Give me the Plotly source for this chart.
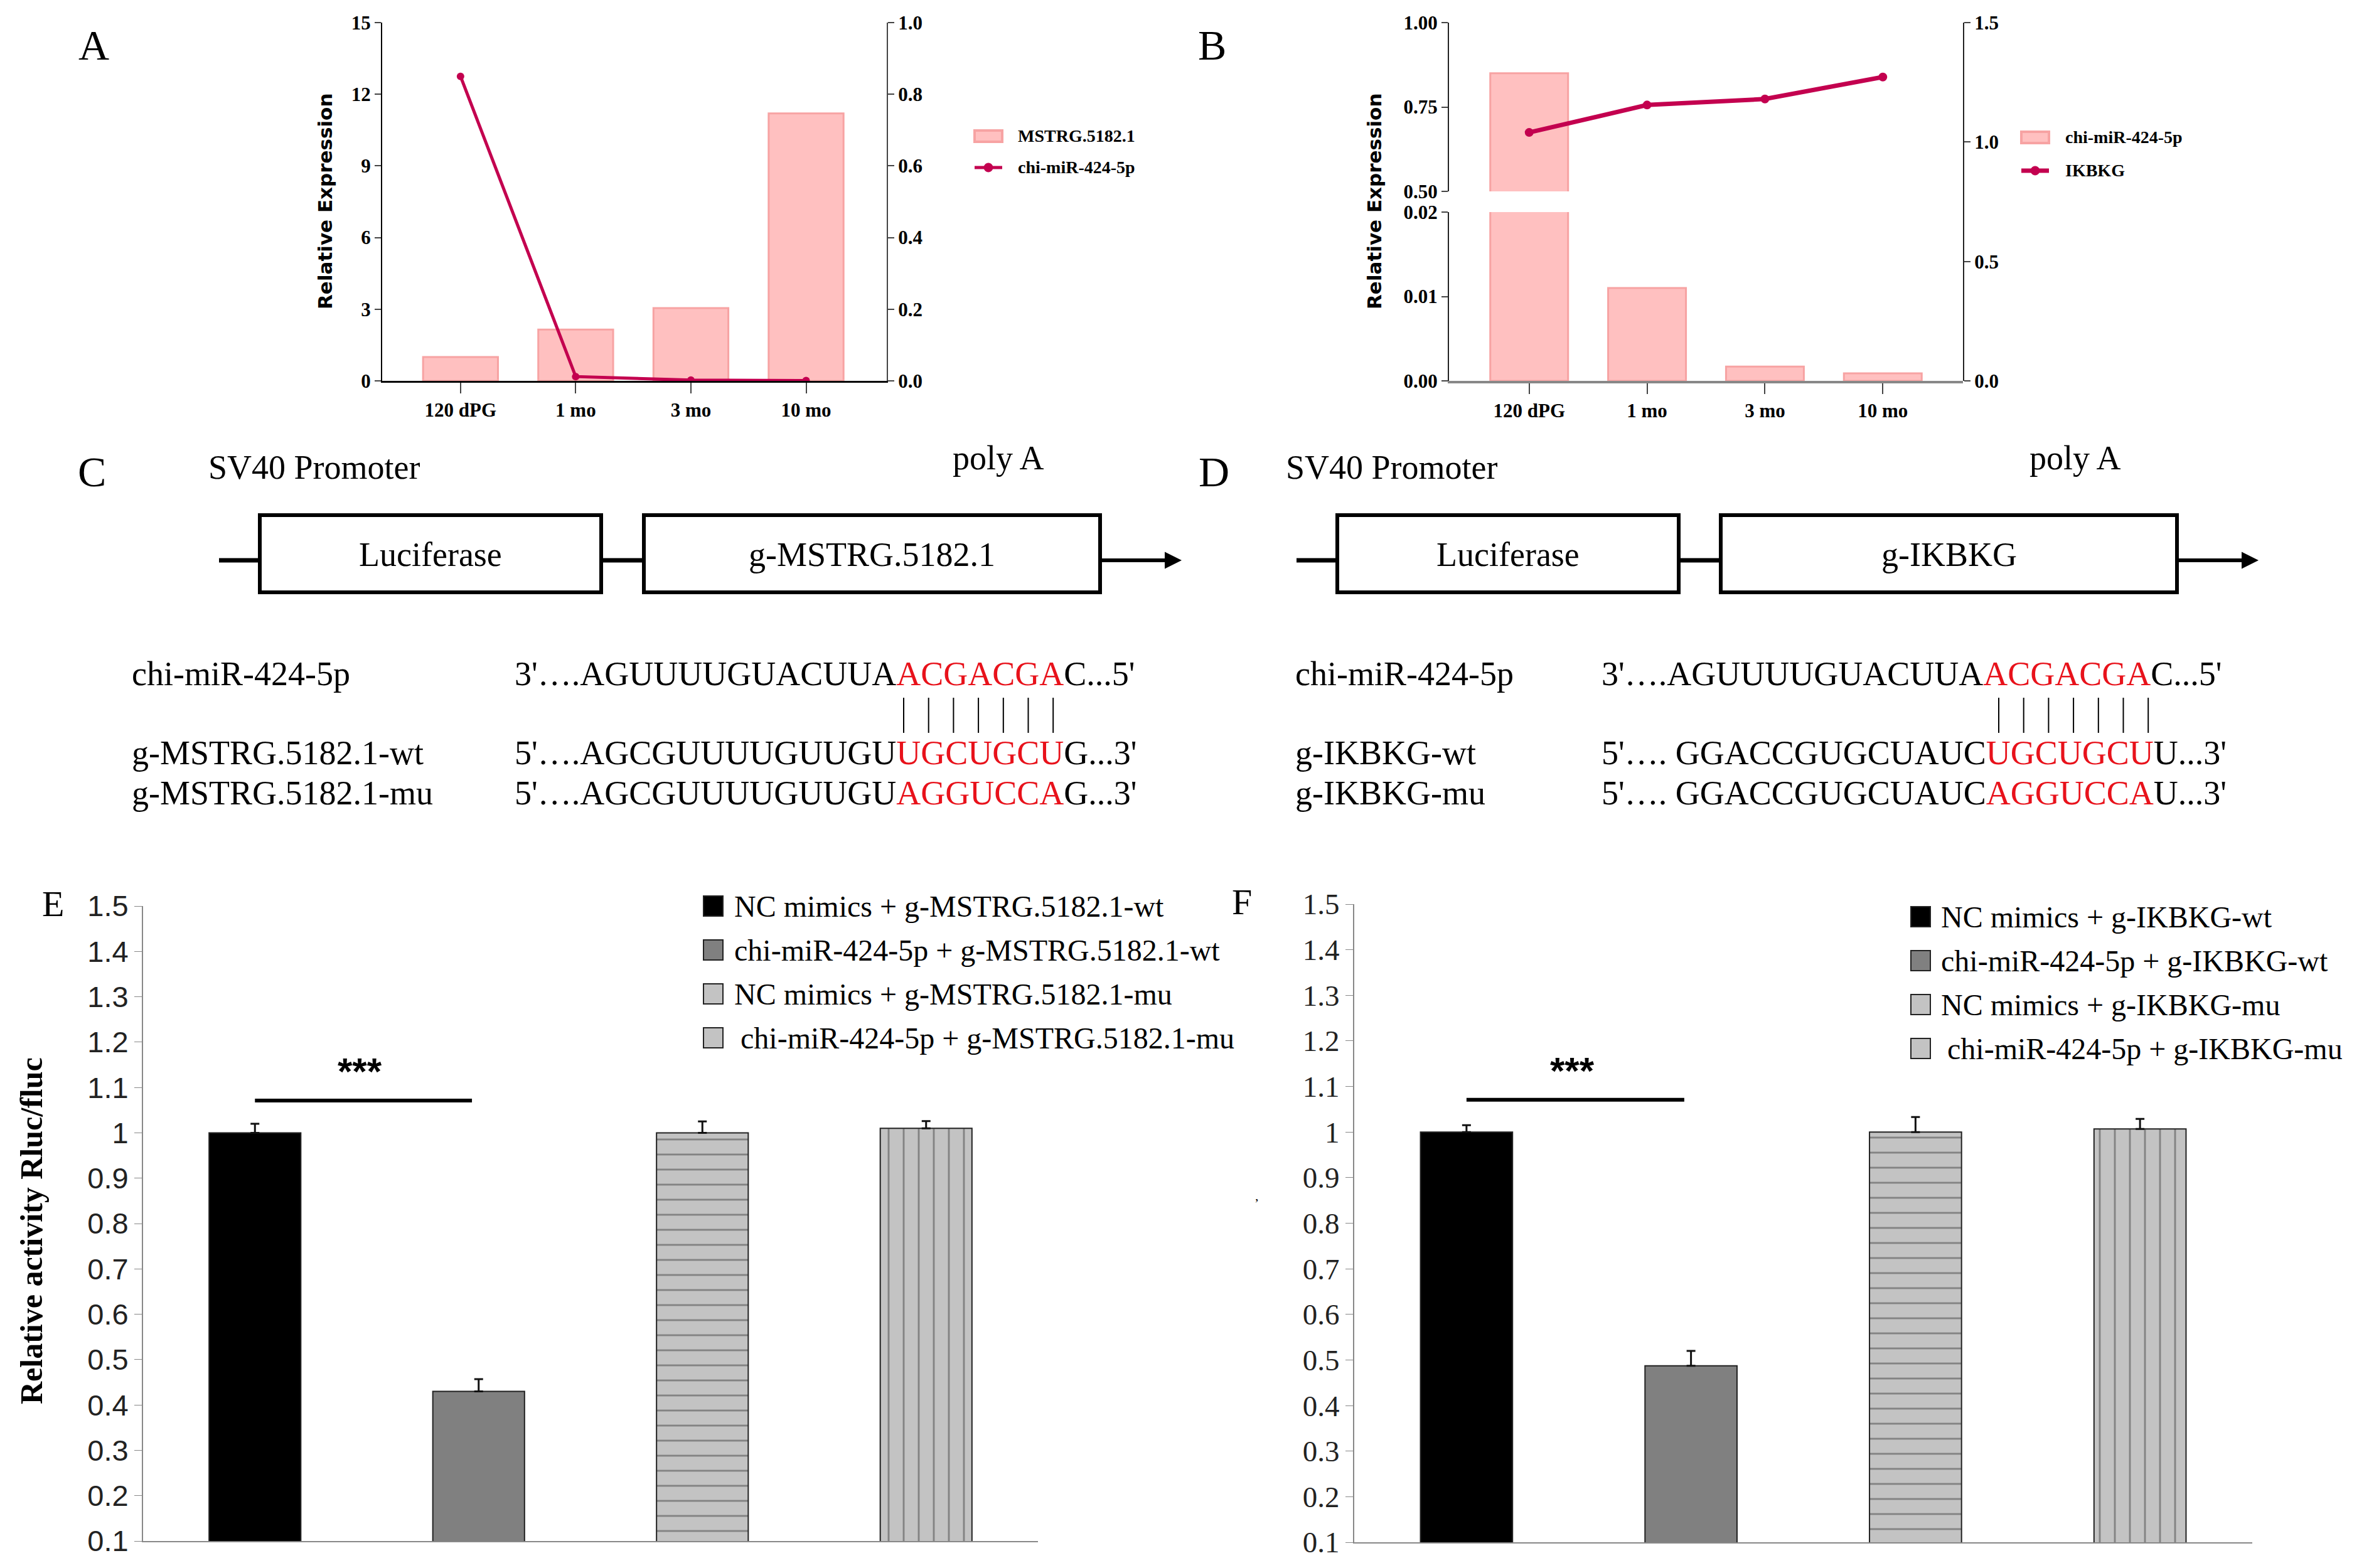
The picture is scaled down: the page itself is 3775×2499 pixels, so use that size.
import plotly.graph_objects as go

# canvas size, everything below is placed in pixels of this canvas
W, H = 3775, 2499
OFF = 8  # the page body margin shifts the figure by this much


def px(x):
    return (x - OFF) / W


def py(y):
    return 1 - (y - OFF) / H


# ---- data ----
timepoints = ["120 dPG", "1 mo", "3 mo", "10 mo"]
mstrg_expr = [1.0, 2.15, 3.05, 11.2]          # panel A bars (left axis)
mir424_a = [0.85, 0.012, 0.002, 0.001]        # panel A line (right axis)
mir424_b = [0.85, 0.011, 0.0017, 0.0009]      # panel B bars (broken left axis)
ikbkg_b = [1.04, 1.155, 1.18, 1.272]          # panel B line (right axis)

groups_e = ["NC mimics + g-MSTRG.5182.1-wt", "chi-miR-424-5p + g-MSTRG.5182.1-wt",
            "NC mimics + g-MSTRG.5182.1-mu", "chi-miR-424-5p + g-MSTRG.5182.1-mu"]
rel_e = [1.0, 0.43, 1.0, 1.01]
err_e = [0.02, 0.027, 0.025, 0.016]

groups_f = ["NC mimics + g-IKBKG-wt", "chi-miR-424-5p + g-IKBKG-wt",
            "NC mimics + g-IKBKG-mu", "chi-miR-424-5p + g-IKBKG-mu"]
rel_f = [1.0, 0.487, 1.0, 1.007]
err_f = [0.015, 0.033, 0.033, 0.022]

luc_ticks = [0.1, 0.2, 0.3, 0.4, 0.5, 0.6, 0.7, 0.8, 0.9, 1.0, 1.1, 1.2, 1.3, 1.4, 1.5]
luc_ticktext = ["0.1", "0.2", "0.3", "0.4", "0.5", "0.6", "0.7", "0.8", "0.9", "1",
                "1.1", "1.2", "1.3", "1.4", "1.5"]

mir_seq = ("3'….AGUUUUGUACUUA", "ACGACGA", "C...5'")
mstrg_wt = ("5'….AGCGUUUUGUUGU", "UGCUGCU", "G...3'")
mstrg_mu = ("5'….AGCGUUUUGUUGU", "AGGUCCA", "G...3'")
ikbkg_wt = ("5'…. GGACCGUGCUAUC", "UGCUGCU", "U...3'")
ikbkg_mu = ("5'…. GGACCGUGCUAUC", "AGGUCCA", "U...3'")

PINK = "#ffc0c0"
PINK_EDGE = "#f7a3a3"
CRIMSON = "#c3004f"
RED = "#e8121b"
bar_colors = ["#000000", "#808080", "#c3c3c3", "#c3c3c3"]
bar_patterns = ["", "", "-", "|"]

SERIF = "Liberation Serif"
SANS = "Liberation Sans"

fig = go.Figure()

# ---- panel A ----
fig.add_trace(go.Bar(x=timepoints, y=mstrg_expr, width=0.65, xaxis="x", yaxis="y",
                     marker=dict(color=PINK, line=dict(color=PINK_EDGE, width=3))))
fig.add_trace(go.Scatter(x=timepoints, y=mir424_a, xaxis="x", yaxis="y2", mode="lines+markers",
                         line=dict(color=CRIMSON, width=5), marker=dict(size=12, color=CRIMSON)))

# ---- panel B (broken left axis) ----
fig.add_trace(go.Bar(x=timepoints, y=mir424_b, width=0.66, xaxis="x2", yaxis="y3",
                     marker=dict(color=PINK, line=dict(color=PINK_EDGE, width=3))))
fig.add_trace(go.Bar(x=timepoints, y=mir424_b, width=0.66, xaxis="x2", yaxis="y4",
                     marker=dict(color=PINK, line=dict(color=PINK_EDGE, width=3))))
fig.add_trace(go.Scatter(x=timepoints, y=ikbkg_b, xaxis="x2", yaxis="y5", mode="lines+markers",
                         line=dict(color=CRIMSON, width=7), marker=dict(size=14, color=CRIMSON)))

# ---- panels E and F ----
for groups, vals, errs, xa, ya in [(groups_e, rel_e, err_e, "x3", "y6"),
                                   (groups_f, rel_f, err_f, "x4", "y7")]:
    fig.add_trace(go.Bar(
        x=groups, y=vals, width=0.41, xaxis=xa, yaxis=ya,
        marker=dict(color=bar_colors, line=dict(color="#222222", width=2),
                    pattern=dict(shape=bar_patterns, fillmode="overlay", fgcolor="#b7b7b7",
                                 size=24, solidity=0.12)),
        error_y=dict(type="data", symmetric=False, array=errs, arrayminus=[0, 0, 0, 0],
                     color="#111111", thickness=3, width=7),
    ))

tick_bold = dict(family=SERIF, size=31, color="black", weight="bold")
common = dict(showgrid=False, zeroline=False, showline=True, automargin=False)

fig.update_layout(
    width=W, height=H, margin=dict(l=0, r=0, t=0, b=0, pad=0, autoexpand=False),
    paper_bgcolor="white", plot_bgcolor="rgba(0,0,0,0)",
    showlegend=False, font=dict(family=SERIF, color="black"),
    # A
    xaxis=dict(domain=[px(609), px(1413)], anchor="y", range=[-0.68, 3.70], ticks="outside",
               ticklen=17, tickwidth=2, linecolor="black", linewidth=3, tickfont=tick_bold, **common),
    yaxis=dict(domain=[py(607), py(36)], anchor="x", range=[0, 15], dtick=3, ticks="outside",
               ticklen=10, tickwidth=2, linecolor="black", linewidth=2, tickfont=tick_bold, **common),
    yaxis2=dict(overlaying="y", side="right", anchor="x", range=[0, 1.0], dtick=0.2, tickformat=".1f",
                ticks="outside", ticklen=10, tickwidth=2, linecolor="#444", linewidth=2,
                tickfont=tick_bold, **common),
    # B
    xaxis2=dict(domain=[px(2309), px(3128)], anchor="y3", range=[-0.68, 3.68], ticks="outside",
                ticklen=17, tickwidth=2, linecolor="#888", linewidth=4, tickfont=tick_bold, **common),
    yaxis3=dict(domain=[py(607), py(338)], anchor="x2", range=[0, 0.02],
                tickvals=[0, 0.01, 0.02], tickformat=".2f", ticks="outside", ticklen=10, tickwidth=2,
                linecolor="#222", linewidth=2, tickfont=tick_bold, **common),
    yaxis4=dict(domain=[py(305), py(36)], anchor="x2", range=[0.5, 1.0],
                tickvals=[0.5, 0.75, 1.0], tickformat=".2f", ticks="outside", ticklen=10, tickwidth=2,
                linecolor="#222", linewidth=2, tickfont=tick_bold, **common),
    yaxis5=dict(domain=[py(607), py(36)], anchor="x2", side="right", range=[0, 1.5], dtick=0.5,
                tickformat=".1f", ticks="outside", ticklen=10, tickwidth=2,
                linecolor="#222", linewidth=2, tickfont=tick_bold, **common),
    # E
    xaxis3=dict(domain=[px(228), px(1654)], anchor="y6", range=[-0.5, 3.5], showticklabels=False,
                ticks="", linecolor="#888", linewidth=2, **common),
    yaxis6=dict(domain=[py(2456), py(1444)], anchor="x3", range=[0.1, 1.5], tickvals=luc_ticks,
                ticktext=luc_ticktext, ticks="outside", ticklen=12, tickcolor="#888",
                linecolor="#888", linewidth=2, tickfont=dict(family=SANS, size=47, color="#222"), **common),
    # F
    xaxis4=dict(domain=[px(2158), px(3589)], anchor="y7", range=[-0.5, 3.5], showticklabels=False,
                ticks="", linecolor="#888", linewidth=2, **common),
    yaxis7=dict(domain=[py(2458), py(1441)], anchor="x4", range=[0.1, 1.5], tickvals=luc_ticks,
                ticktext=luc_ticktext, ticks="outside", ticklen=12, tickcolor="#888",
                linecolor="#888", linewidth=2, tickfont=dict(family=SERIF, size=47, color="#222"), **common),
)

ann = []
shapes = []


def text(x, y, t, size, anchor="left", family=SERIF, weight="normal", angle=0, color="black"):
    ann.append(dict(x=px(x), y=py(y), xref="paper", yref="paper", text=t, showarrow=False,
                    xanchor=anchor, yanchor="middle", textangle=angle,
                    font=dict(family=family, size=size, weight=weight, color=color)))


# panel letters
text(149, 72, "A", 68, "center")
text(1931, 72, "B", 68, "center")
text(146, 752, "C", 68, "center")
text(1934, 752, "D", 68, "center")
text(84, 1440, "E", 58, "center")
text(1979, 1437, "F", 58, "center")

# axis titles
text(518, 321, "Relative Expression", 31, "center", "DejaVu Sans", "bold", -90)
text(2190, 321, "Relative Expression", 31, "center", "DejaVu Sans", "bold", -90)
text(50, 1962, "Relative activity Rluc/fluc", 50, "center", SERIF, "bold", -90)
text(2003, 1905, ",", 22, "center")

# legends A and B
for (x0, ytop, ybot), xt, lab in [((1553, 208, 226), 1620, "MSTRG.5182.1"),
                                  ((3221, 210, 228), 3289, "chi-miR-424-5p")]:
    shapes.append(dict(type="rect", xref="paper", yref="paper", x0=px(x0), x1=px(x0 + 44),
                       y0=py(ybot), y1=py(ytop), fillcolor=PINK, line=dict(color=PINK_EDGE, width=4)))
    text(xt, (ytop + ybot) / 2, lab, 28, "left", SERIF, "bold")
for (x0, yl), xt, lab, w in [((1553, 267), 1620, "chi-miR-424-5p", 5),
                             ((3221, 272), 3289, "IKBKG", 7)]:
    shapes.append(dict(type="line", xref="paper", yref="paper", x0=px(x0), x1=px(x0 + 44),
                       y0=py(yl), y1=py(yl), line=dict(color=CRIMSON, width=w)))
    shapes.append(dict(type="circle", xref="paper", yref="paper", x0=px(x0 + 15), x1=px(x0 + 29),
                       y0=py(yl + 7), y1=py(yl - 7), fillcolor=CRIMSON, line=dict(color=CRIMSON, width=1)))
    text(xt, yl, lab, 28, "left", SERIF, "bold")

# legends E and F
for sx, tx, rows, groups in [(1121, 1168, [1444, 1514, 1584, 1654], groups_e),
                             (3045, 3091, [1461, 1531, 1601, 1671], groups_f)]:
    for i, (yc, lab) in enumerate(zip(rows, groups)):
        shapes.append(dict(type="rect", xref="paper", yref="paper", x0=px(sx), x1=px(sx + 31),
                           y0=py(yc + 16), y1=py(yc - 16), fillcolor=bar_colors[i],
                           line=dict(color="#222", width=2)))
        text(tx + (10 if i == 3 else 0), yc, lab, 48)

# significance bars
for xa, ya in [("x3", "y6"), ("x4", "y7")]:
    shapes.append(dict(type="line", xref=xa, yref=ya, x0=0.0, x1=0.97, y0=1.071, y1=1.071,
                       line=dict(color="black", width=6)))
    ann.append(dict(x=0.47, y=1.135, xref=xa, yref=ya, text="***", showarrow=False,
                    font=dict(family=SANS, size=60, weight="bold", color="black")))

# constructs C and D
for (lstart, b1, b2, aend), gene, seq_x, lab_x, bars_x, rows in [
    ((349, (414, 958), (1026, 1753), 1883), "g-MSTRG.5182.1", 818, 208, 1440,
     [("chi-miR-424-5p", mir_seq), ("g-MSTRG.5182.1-wt", mstrg_wt), ("g-MSTRG.5182.1-mu", mstrg_mu)]),
    ((2066, (2131, 2675), (2742, 3469), 3599), "g-IKBKG", 2550, 2062, 3185,
     [("chi-miR-424-5p", mir_seq), ("g-IKBKG-wt", ikbkg_wt), ("g-IKBKG-mu", ikbkg_mu)]),
]:
    yl = 893
    shapes.append(dict(type="line", xref="paper", yref="paper", x0=px(lstart), x1=px(b1[0]),
                       y0=py(yl), y1=py(yl), line=dict(color="black", width=7)))
    shapes.append(dict(type="line", xref="paper", yref="paper", x0=px(b1[1]), x1=px(b2[0]),
                       y0=py(yl), y1=py(yl), line=dict(color="black", width=7)))
    for bx, lab in [(b1, "Luciferase"), (b2, gene)]:
        shapes.append(dict(type="rect", xref="paper", yref="paper", x0=px(bx[0]), x1=px(bx[1]),
                           y0=py(944), y1=py(821), fillcolor="white", line=dict(color="black", width=6)))
        text((bx[0] + bx[1]) / 2, 884, lab, 54, "center")
    ann.append(dict(x=px(aend), y=py(yl), ax=-(aend - b2[1]), ay=0, xref="paper", yref="paper",
                    axref="pixel", ayref="pixel", text="", showarrow=True, arrowhead=2,
                    arrowsize=0.9, arrowwidth=6, arrowcolor="black"))
    text(b1[0] - 84, 745, "SV40 Promoter", 54, "left")
    text(b2[1] - 237, 730, "poly A", 54, "left")
    for (name, parts), yr in zip(rows, [1074, 1200, 1264]):
        text(lab_x, yr, name, 54, "left")
        text(seq_x, yr, f"{parts[0]}<span style='color:{RED}'>{parts[1]}</span>{parts[2]}", 54, "left")
    for i in range(7):
        xb = bars_x + 39.7 * i
        shapes.append(dict(type="line", xref="paper", yref="paper", x0=px(xb), x1=px(xb),
                           y0=py(1168), y1=py(1112), line=dict(color="black", width=2)))

fig.update_layout(annotations=ann, shapes=shapes)
fig.write_html("out.html")
